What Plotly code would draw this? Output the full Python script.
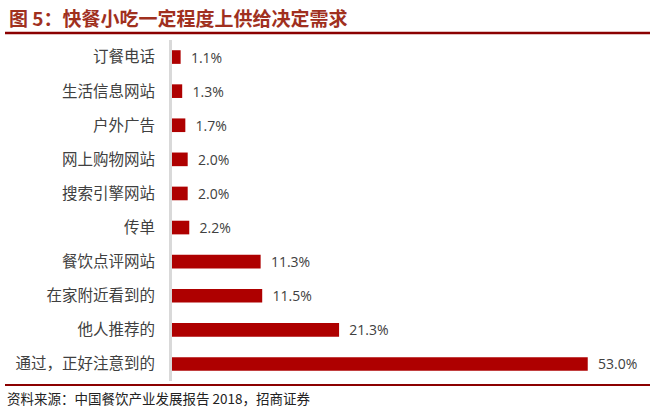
import plotly.graph_objects as go

categories = ["订餐电话", "生活信息网站", "户外广告", "网上购物网站", "搜索引擎网站",
              "传单", "餐饮点评网站", "在家附近看到的", "他人推荐的", "通过，正好注意到的"]
values = [1.1, 1.3, 1.7, 2.0, 2.0, 2.2, 11.3, 11.5, 21.3, 53.0]
labels = [f"{v:.1f}%" for v in values]

title_text = "图 5：快餐小吃一定程度上供给决定需求"
source_text = "资料来源：中国餐饮产业发展报告 2018，招商证券"

W, H = 655, 414
L, R, T, B = 172, 10, 40, 33
pw, ph = W - L - R, H - T - B

def px_x(x):
    return (x - L) / pw

def px_y(y):
    return (H - B - y) / ph

fig = go.Figure(go.Bar(
    x=values, y=categories, orientation="h",
    marker=dict(color="#AE0000", line=dict(width=0)),
    text=["  " + t for t in labels], textposition="outside", constraintext="none",
    textfont=dict(family="Open Sans", size=14, color="#404040"),
    cliponaxis=False, width=0.4,
))

fig.update_layout(
    width=W, height=H,
    margin=dict(l=L, r=R, t=T, b=B, autoexpand=False),
    paper_bgcolor="white", plot_bgcolor="white",
    showlegend=False,
    xaxis=dict(range=[0, 60.3], visible=False, fixedrange=True, automargin=False),
    yaxis=dict(autorange="reversed", showline=True, linecolor="#D9D9D9", linewidth=3,
               showgrid=False, zeroline=False, ticks="", ticklabelstandoff=11, automargin=False,
               tickfont=dict(family="Noto Sans CJK SC", size=15.5, color="#404040")),
    shapes=[
        dict(type="line", xref="paper", yref="paper", x0=px_x(5), x1=px_x(650),
             y0=px_y(33), y1=px_y(33), line=dict(color="#8B0000", width=2.5)),
        dict(type="line", xref="paper", yref="paper", x0=px_x(5), x1=px_x(650),
             y0=px_y(385), y1=px_y(385), line=dict(color="#8B0000", width=2)),
    ],
    annotations=[
        dict(text=title_text, xref="paper", yref="paper", x=px_x(7), y=px_y(17),
             xanchor="left", yanchor="middle", showarrow=False,
             font=dict(family="Noto Sans CJK SC", size=19, color="#A0301E", weight="bold")),
        dict(text=source_text, xref="paper", yref="paper", x=px_x(5), y=px_y(398),
             xanchor="left", yanchor="middle", showarrow=False,
             font=dict(family="Noto Sans CJK SC", size=13.5, color="#222222")),
    ],
)

fig.write_html("out.html", config={"displayModeBar": False},
               post_script="document.body.style.margin='0';")
